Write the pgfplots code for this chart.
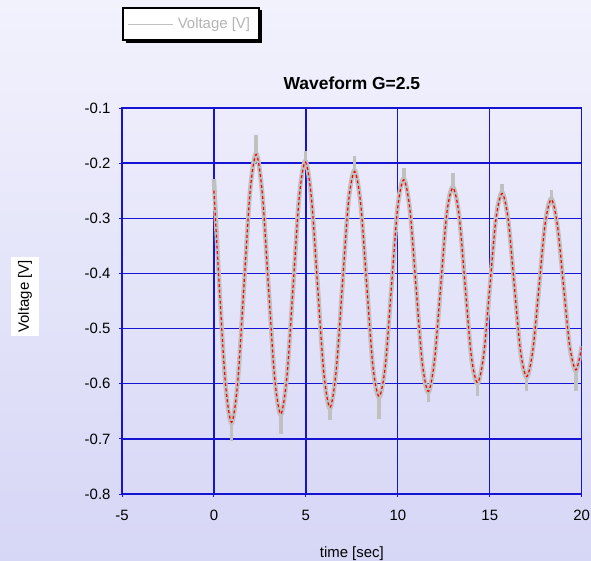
\documentclass[border=0pt]{standalone}
\usepackage{pgfplots}
\pgfplotsset{compat=1.18}
\usepackage{pgfplotstable}
\usepackage{fontspec}
\setmainfont{Liberation Sans}
\usetikzlibrary{shadows}

\definecolor{bgtop}{HTML}{F2F2FD}
\definecolor{bgbot}{HTML}{D6D6F6}
\definecolor{gridblue}{HTML}{1414D2}
\definecolor{measgray}{HTML}{C0C0C0}
\definecolor{legtext}{HTML}{B4B4B4}

% fitted curve (red dashed)
\pgfplotstableread{
t v
0.000 -0.250
0.291 -0.424
0.626 -0.599
0.960 -0.670
1.294 -0.597
1.629 -0.424
1.963 -0.253
2.298 -0.184
2.632 -0.255
2.966 -0.424
3.301 -0.589
3.635 -0.655
3.969 -0.587
4.304 -0.424
4.638 -0.262
4.973 -0.198
5.307 -0.265
5.641 -0.424
5.976 -0.580
6.310 -0.643
6.644 -0.578
6.979 -0.424
7.313 -0.272
7.648 -0.215
7.982 -0.274
8.316 -0.424
8.651 -0.570
8.985 -0.623
9.319 -0.568
9.654 -0.424
9.988 -0.282
10.323 -0.230
10.657 -0.284
10.991 -0.424
11.326 -0.561
11.660 -0.614
11.994 -0.558
12.329 -0.424
12.663 -0.291
12.998 -0.245
13.332 -0.294
13.666 -0.424
14.001 -0.551
14.335 -0.598
14.669 -0.549
15.004 -0.424
15.338 -0.301
15.673 -0.255
16.007 -0.303
16.341 -0.424
16.676 -0.542
17.010 -0.587
17.344 -0.539
17.679 -0.424
18.013 -0.310
18.348 -0.266
18.682 -0.313
19.016 -0.424
19.351 -0.532
19.685 -0.575
20.000 -0.534
}\fitted

% measured voltage (grey band)
\pgfplotstableread{
t v
0.000 -0.229
0.291 -0.420
0.626 -0.601
0.960 -0.672
1.294 -0.595
1.629 -0.426
1.963 -0.251
2.298 -0.182
2.632 -0.257
2.966 -0.422
3.301 -0.590
3.635 -0.657
3.969 -0.585
4.304 -0.426
4.638 -0.260
4.973 -0.196
5.307 -0.266
5.641 -0.422
5.976 -0.582
6.310 -0.645
6.644 -0.576
6.979 -0.426
7.313 -0.270
7.648 -0.213
7.982 -0.276
8.316 -0.422
8.651 -0.572
8.985 -0.625
9.319 -0.566
9.654 -0.426
9.988 -0.280
10.323 -0.228
10.657 -0.286
10.991 -0.422
11.326 -0.563
11.660 -0.616
11.994 -0.556
12.329 -0.426
12.663 -0.289
12.998 -0.243
13.332 -0.296
13.666 -0.422
14.001 -0.553
14.335 -0.600
14.669 -0.547
15.004 -0.426
15.338 -0.299
15.673 -0.253
16.007 -0.305
16.341 -0.422
16.676 -0.544
17.010 -0.589
17.344 -0.537
17.679 -0.426
18.013 -0.308
18.348 -0.264
18.682 -0.315
19.016 -0.422
19.351 -0.534
19.685 -0.577
20.000 -0.532
}\measured

% noise excursions of the measured signal at the turning points
\pgfplotstableread{
t v
0.960 -0.670
0.960 -0.704
nan nan
2.285 -0.184
2.285 -0.149
nan nan
3.635 -0.655
3.635 -0.692
nan nan
4.973 -0.198
4.973 -0.178
nan nan
6.310 -0.643
6.310 -0.665
nan nan
7.648 -0.215
7.648 -0.187
nan nan
8.985 -0.623
8.985 -0.664
nan nan
10.323 -0.230
10.323 -0.208
nan nan
11.660 -0.614
11.660 -0.634
nan nan
12.998 -0.245
12.998 -0.217
nan nan
14.335 -0.598
14.335 -0.623
nan nan
15.673 -0.255
15.673 -0.238
nan nan
17.010 -0.587
17.010 -0.613
nan nan
18.348 -0.266
18.348 -0.248
nan nan
19.685 -0.575
19.685 -0.613
}\spikes

\begin{document}
\begin{tikzpicture}
\shade[top color=bgtop, bottom color=bgbot] (0,0) rectangle (591bp,561bp);
\useasboundingbox (0,0) rectangle (591bp,561bp);
\begin{axis}[
  at={(122bp,67bp)}, anchor=south west,
  scale only axis, width=459.7bp, height=386bp,
  xmin=-5, xmax=20, ymin=-0.8, ymax=-0.1,
  xtick={-5,0,5,10,15,20},
  xticklabels={-5,0,5,10,15,20},
  ytick={-0.8,-0.7,-0.6,-0.5,-0.4,-0.3,-0.2,-0.1},
  yticklabels={-0.8,-0.7,-0.6,-0.5,-0.4,-0.3,-0.2,-0.1},
  grid=major,
  major grid style={gridblue, line width=1.3bp},
  axis line style={gridblue, line width=1.3bp},
  tick style={gridblue, line width=1bp},
  tick align=outside, major tick length=3bp,
  xtick pos=left, ytick pos=left,
  ticklabel style={font=\fontsize{15}{18}\selectfont},
  xticklabel style={yshift=-10bp},
  yticklabel style={xshift=-5bp},
  title={Waveform G=2.5},
  title style={at={(axis description cs:0.5,1.0493)}, anchor=center,
    font=\bfseries\fontsize{17.5}{20}\selectfont},
  xlabel={time [sec]},
  xlabel style={at={(axis description cs:0.5,-0.154)}, anchor=center,
    font=\fontsize{15}{18}\selectfont},
  ylabel={Voltage [V]},
  ylabel style={at={(axis description cs:-0.211,0.512)}, anchor=center,
    font=\fontsize{15}{18}\selectfont, fill=white, inner xsep=3bp, inner ysep=7bp},
  legend style={at={(axis description cs:0,1.2617)}, anchor=north west,
    draw=black, line width=2bp, fill=white,
    font=\fontsize{15}{18}\selectfont, text=legtext,
    inner xsep=5bp, inner ysep=8bp,
    nodes={inner xsep=4bp},
    drop shadow={shadow xshift=2.5bp, shadow yshift=-2.5bp, fill=black, opacity=1}},
  legend cell align=left,
  % sample line drawn with basic-layer commands so the frame's shadow is not repeated on it
  legend image code/.code={%
    \pgfsetstrokecolor{measgray}\pgfsetlinewidth{0.8bp}%
    \pgfpathmoveto{\pgfpoint{0bp}{0bp}}\pgfpathlineto{\pgfpoint{45bp}{0bp}}%
    \pgfusepath{stroke}},
]
\addplot[measgray, line width=4.5bp, smooth] table[x=t, y=v] {\measured};
\addlegendentry{Voltage [V]}
\addplot[measgray, line width=3.5bp, unbounded coords=jump, forget plot] table[x=t, y=v] {\spikes};
\addplot[red, line width=1.2bp, dash pattern=on 3bp off 2.5bp, smooth, forget plot] table[x=t, y=v] {\fitted};
\end{axis}
\end{tikzpicture}
\end{document}
